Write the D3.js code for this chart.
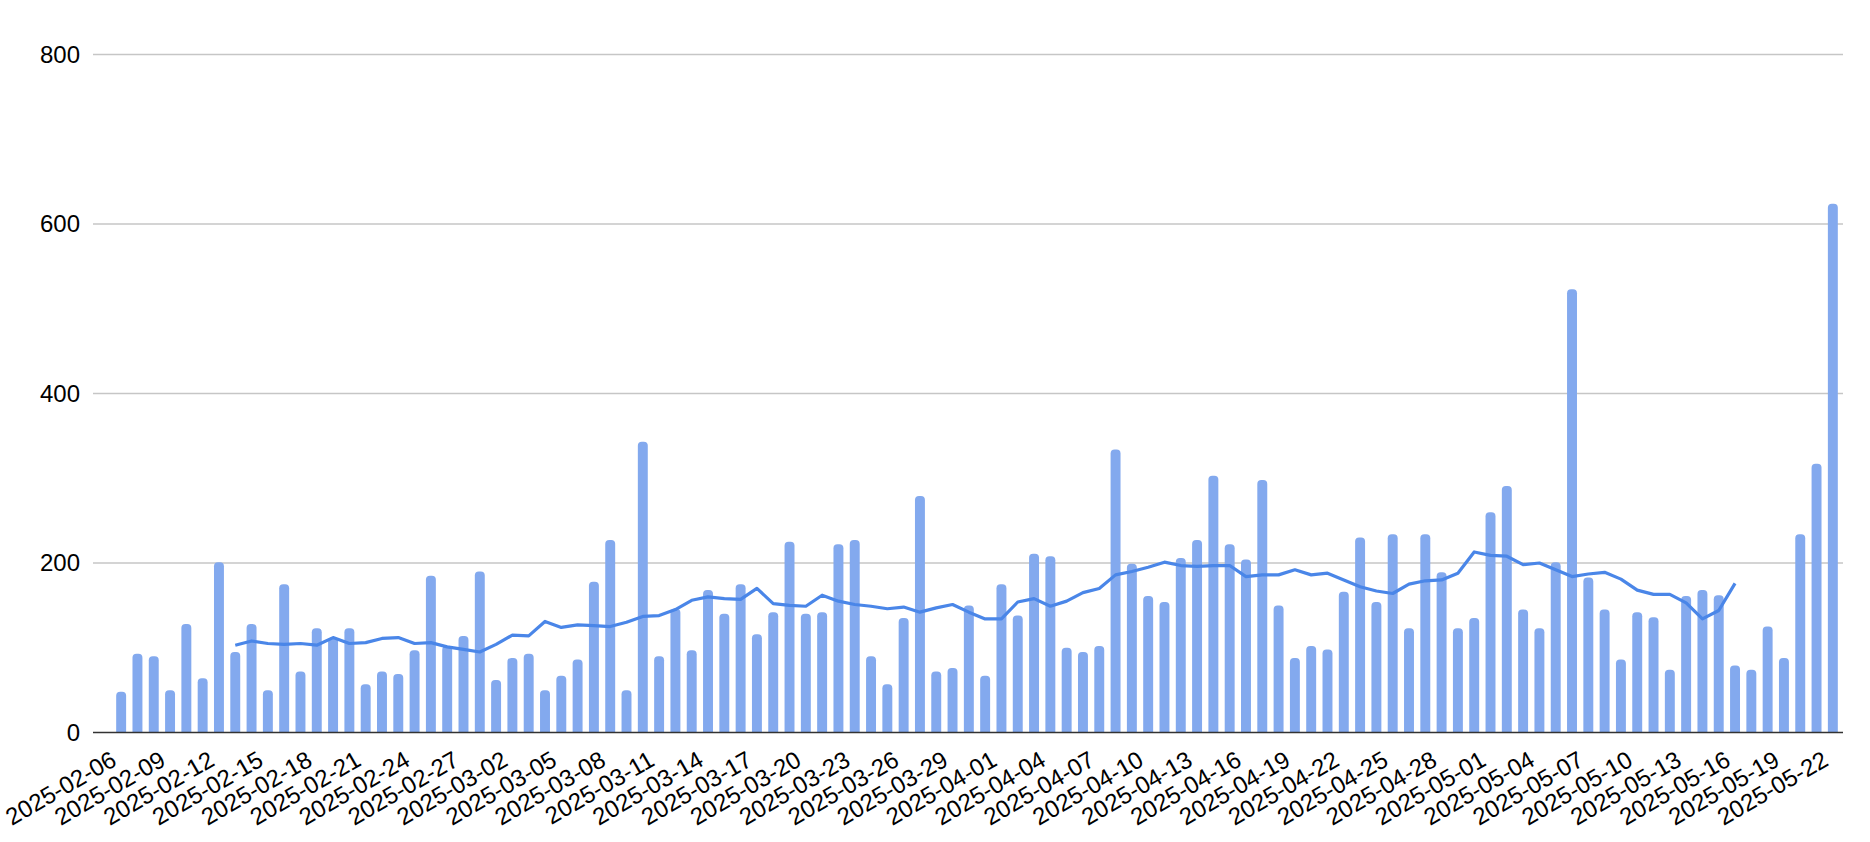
<!DOCTYPE html>
<html>
<head>
<meta charset="utf-8">
<script src="https://cdn.jsdelivr.net/npm/d3@7"></script>
<style>
  html, body { margin: 0; padding: 0; background: #fff; }
  svg { display: block; }
  text { font-family: "Liberation Sans", Arial, sans-serif; fill: #000; }
</style>
</head>
<body>
<svg id="chart" width="1870" height="842"></svg>
<script>
// ---- data ----
const startDate = "2025-02-06";
const dayCount = 106;

const barValues = [
  48, 93, 90, 50, 128, 64, 201, 95, 128, 50,
  175, 72, 123, 112, 123, 57, 72, 69, 97, 185,
  102, 114, 190, 62, 88, 93, 50, 67, 86, 178,
  227, 50, 343, 90, 146, 97, 168, 140, 175, 116,
  142, 225, 140, 142, 222, 227, 90, 57, 135, 279,
  72, 76, 150, 67, 175, 138, 211, 208, 100, 95,
  102, 334, 199, 161, 154, 206, 227, 303, 222, 204,
  298, 150, 88, 102, 98, 166, 230, 154, 234, 123,
  234, 189, 123, 135, 260, 291, 145, 123, 201, 523,
  183, 145, 86, 142, 136, 74, 161, 168, 162, 79,
  74, 125, 88, 234, 317, 624
];

const lineValues = [
  null, null, null, null, null, null, null, 103, 108, 105,
  104, 105, 103, 112, 105, 106, 111, 112, 105, 106,
  101, 98, 95, 104, 115, 114, 131, 124, 127, 126,
  125, 130, 137, 138, 145, 156, 160, 158, 157, 170,
  152, 150, 149, 162, 155, 151, 149, 146, 148, 142,
  147, 151, 142, 134, 134, 154, 158, 149, 155, 165,
  170, 186, 190, 195, 201, 197, 196, 197, 197, 184,
  186, 186, 192, 186, 188, 180, 172, 167, 164, 175,
  179, 180, 188, 213, 209, 208, 198, 200, 192, 184,
  187, 189, 181, 168, 163, 163, 153, 134, 144, 176,
  null, null, null, null, null, null
];

const yTicks = [0, 200, 400, 600, 800];
const labelEvery = 3;

// build categories (dates) from start date
const parse = d3.utcParse("%Y-%m-%d");
const fmt = d3.utcFormat("%Y-%m-%d");
const categories = d3.range(dayCount).map(i => fmt(d3.utcDay.offset(parse(startDate), i)));
const xLabels = categories.filter((d, i) => i % labelEvery === 0);

// ---- layout ----
const svg = d3.select("#chart");
const plotLeft = 93, plotRight = 1843;
const yTop = 54.5, yBottom = 732.5;

const x = d3.scaleBand()
  .domain(categories)
  .range([113, 1841])
  .paddingInner(0.39)
  .paddingOuter(0.195);

const y = d3.scaleLinear().domain([0, 800]).range([yBottom, yTop]);

// gridlines
svg.append("g").selectAll("line")
  .data(yTicks.filter(t => t > 0))
  .join("line")
  .attr("x1", plotLeft).attr("x2", plotRight)
  .attr("y1", d => y(d)).attr("y2", d => y(d))
  .attr("stroke", "#c6c6c6").attr("stroke-width", 1.3);

// y axis labels
const yAxis = d3.axisLeft(y).tickValues(yTicks).tickSize(0).tickPadding(0).tickFormat(d3.format("d"));
const yg = svg.append("g").attr("transform", "translate(80,0)").call(yAxis);
yg.select(".domain").remove();
yg.selectAll("text").style("font-size", "24px").attr("fill", "#000")
  .style("font-family", '"Liberation Sans", Arial, sans-serif');

// bars with rounded tops
function barPath(x0, y0, w, h, r) {
  r = Math.min(r, h, w / 2);
  return `M${x0},${y0 + h}V${y0 + r}A${r},${r} 0 0 1 ${x0 + r},${y0}H${x0 + w - r}A${r},${r} 0 0 1 ${x0 + w},${y0 + r}V${y0 + h}Z`;
}
const bw = x.bandwidth();
svg.append("g").selectAll("path")
  .data(categories.map((c, i) => ({ c, v: barValues[i] })))
  .join("path")
  .attr("d", d => barPath(x(d.c), y(d.v), bw, y(0) - y(d.v), 4))
  .attr("fill", "#83a9ee");

// baseline
svg.append("line")
  .attr("x1", plotLeft).attr("x2", plotRight)
  .attr("y1", y(0)).attr("y2", y(0))
  .attr("stroke", "#333333").attr("stroke-width", 1.5);

// moving line
const lineGen = d3.line()
  .defined(d => d.v != null)
  .x(d => x(d.c) + bw / 2)
  .y(d => y(d.v));
svg.append("path")
  .datum(categories.map((c, i) => ({ c, v: lineValues[i] })))
  .attr("d", lineGen)
  .attr("fill", "none")
  .attr("stroke", "#4a86e8")
  .attr("stroke-width", 3.2)
  .attr("stroke-linejoin", "round");

// x labels
svg.append("g").selectAll("text")
  .data(xLabels)
  .join("text")
  .attr("transform", d => `translate(${x(d) + bw / 2 - 3},${yBottom + 32}) rotate(-30)`)
  .attr("text-anchor", "end")
  .style("font-size", "24px")
  .text(d => d);
</script>
</body>
</html>
